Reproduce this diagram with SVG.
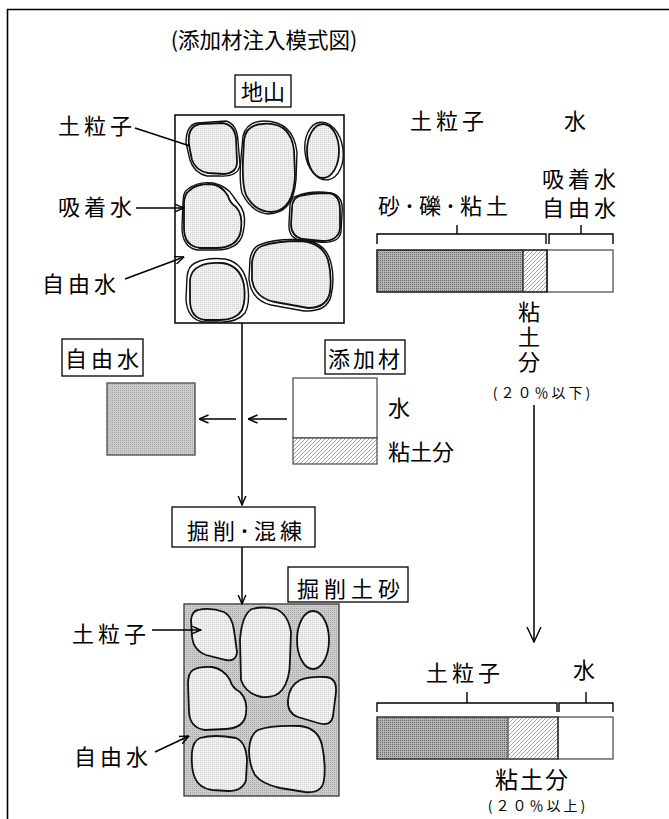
<svg xmlns="http://www.w3.org/2000/svg" width="669" height="819" viewBox="0 0 669 819">
  <style>
    text { font-family: "Noto Sans CJK JP", "Liberation Sans", sans-serif; fill: #000; }
    .t20 { font-size: 22px; letter-spacing: 4px; }
    .t21 { font-size: 22px; letter-spacing: 4px; }
    .t22 { font-size: 22px; }
    .small { font-size: 14px; letter-spacing: 3px; }
    .vert { writing-mode: vertical-rl; }
    .box { fill: #fff; stroke: #000; stroke-width: 1.3; }
    .frame { fill: none; stroke: #000; stroke-width: 1.6; }
    .line { fill: none; stroke: #000; stroke-width: 1.5; }
    .grain { fill: url(#pLight); stroke: #111; stroke-width: 1.8; }
    .shell { fill: none; stroke: #111; stroke-width: 1.4; }
    .brk { fill: none; stroke: #000; stroke-width: 1.4; }
  </style>
  <defs>
    <pattern id="pLight" width="2" height="2" patternUnits="userSpaceOnUse">
      <rect width="2" height="2" fill="#f0f0f0"/>
      <rect width="1" height="1" fill="#d2d2d2"/>
    </pattern>
    <pattern id="pGray" width="2" height="2" patternUnits="userSpaceOnUse">
      <rect width="2" height="2" fill="#cccccc"/>
      <rect width="1" height="1" fill="#a8a8a8"/>
    </pattern>
    <pattern id="pDark" width="2" height="2" patternUnits="userSpaceOnUse">
      <rect width="2" height="2" fill="#b4b4b4"/>
      <rect width="1" height="1" fill="#6a6a6a"/>
    </pattern>
    <pattern id="pHatch" width="4" height="4" patternUnits="userSpaceOnUse">
      <rect width="4" height="4" fill="#fff"/>
      <path d="M-1,1 L1,-1 M0,4 L4,0 M3,5 L5,3" stroke="#8a8a8a" stroke-width="0.8"/>
    </pattern>
    <marker id="vArrow" viewBox="0 0 10 10" markerWidth="10" markerHeight="10" refX="9.5" refY="5" orient="auto" markerUnits="userSpaceOnUse">
      <path d="M0,1 L9.5,5 L0,9" fill="none" stroke="#000" stroke-width="1.4"/>
    </marker>
    <marker id="vArrowL" viewBox="0 0 16 16" markerWidth="16" markerHeight="16" refX="15" refY="8" orient="auto" markerUnits="userSpaceOnUse">
      <path d="M0,1 L15,8 L0,15" fill="none" stroke="#000" stroke-width="1.4"/>
    </marker>
  </defs>

  <rect width="669" height="819" fill="#fff"/>

  <!-- outer frame (open at right and bottom) -->
  <path class="frame" d="M7.5,819 L7.5,9.5 L669,9.5"/>

  <!-- title -->
  <g id="title">
    <text x="264" y="48" font-size="21.5" text-anchor="middle">(添加材注入模式図)</text>
  </g>

  <!-- natural ground block -->
  <g id="jiyama">
    <rect class="box" x="235" y="75" width="56" height="32"/>
    <text class="t22" x="263" y="100" text-anchor="middle">地山</text>
    <rect x="175" y="115" width="169" height="208" fill="#fff" stroke="#000" stroke-width="1.5"/>
    <!-- grains (particle + adsorbed water shell) -->
    <path class="grain" d="M200,124 L222,123 Q234,124 236,138 L237,162 Q237,173 224,174 L208,173 Q196,171 192,160 L189,145 Q187,126 200,124 Z"/>
    <path class="shell" d="M197,123 L226,121 Q237,124 238,141 L240,165 Q238,177 220,176 L207,176 Q194,173 190,160 L186,143 Q186,125 197,123 Z"/>
    <path class="grain" d="M262,124 Q290,121 294,150 L295,175 Q294,210 272,212 Q255,212 246,195 Q242,185 243,160 L244,140 Q246,125 262,124 Z"/>
    <path class="shell" d="M264,121 Q293,121 297,152 L296,180 Q293,214 268,214 Q251,212 242,193 Q239,181 241,158 L243,136 Q247,121 264,121 Z"/>
    <ellipse class="grain" cx="323" cy="151" rx="16" ry="27"/>
    <ellipse class="shell" cx="324" cy="151" rx="19" ry="29" transform="rotate(-8 324 151)"/>
    <path class="grain" d="M190,190 Q196,184 210,184 Q222,185 228,196 Q230,203 236,207 Q243,214 241,230 Q238,248 216,248 L200,248 Q184,246 184,228 L184,204 Q184,194 190,190 Z"/>
    <path class="shell" d="M188,189 Q198,181 213,183 Q227,186 233,196 Q237,202 241,207 Q247,216 243,233 Q239,251 213,250 L197,250 Q182,247 182,227 L183,202 Q183,192 188,189 Z"/>
    <path class="grain" d="M300,196 Q310,193 328,193 Q340,194 340,210 L340,228 Q339,241 322,241 L302,239 Q291,236 291,224 L292,208 Q292,198 300,196 Z"/>
    <path class="shell" d="M297,196 Q311,190 331,193 Q344,196 342,213 L341,232 Q339,244 319,242 L299,240 Q288,237 289,223 L290,205 Q291,197 297,196 Z"/>
    <path class="grain" d="M200,266 Q208,262 222,263 Q240,265 244,285 Q246,300 242,310 Q236,320 220,320 L205,320 Q190,318 190,300 L190,280 Q191,270 200,266 Z"/>
    <path class="shell" d="M195,263 Q207,257 225,259 Q245,263 248,288 Q250,304 245,313 Q237,323 217,322 L203,322 Q187,319 186,299 L187,277 Q188,266 195,263 Z"/>
    <path class="grain" d="M262,246 Q276,241 300,241 Q322,242 328,260 Q332,275 330,292 Q327,308 308,308 L275,302 Q255,298 252,280 L252,262 Q254,249 262,246 Z"/>
    <path class="shell" d="M259,245 Q277,238 303,240 Q326,242 331,263 Q335,279 331,296 Q327,312 304,311 L271,305 Q251,300 249,279 L250,259 Q252,248 259,245 Z"/>
  </g>

  <g id="jiyama-labels">
    <text class="t20" x="58" y="134">土粒子</text>
    <text class="t20" x="58" y="215">吸着水</text>
    <text class="t20" x="42" y="292">自由水</text>
  </g>

  <!-- ratio bar before injection -->
  <g id="bar-before">
    <text class="t21" x="410" y="129">土粒子</text>
    <text class="t21" x="564" y="129">水</text>
    <text class="t21" x="542" y="187">吸着水</text>
    <text class="t21" x="542" y="216">自由水</text>
    <text class="t21" x="378" y="214">砂･礫･粘土</text>
    <path class="brk" d="M377,244 L377,234 L546,234 L546,244 M457,234 L457,225"/>
    <path class="brk" d="M549,244 L549,234 L613,234 L613,244 M581,234 L581,225"/>
    <rect x="377" y="250" width="146" height="42" fill="url(#pDark)"/>
    <rect x="523" y="250" width="24" height="42" fill="url(#pHatch)"/>
    <rect x="547" y="250" width="66" height="42" fill="#fff" stroke="#444" stroke-width="1.2"/>
    <rect x="377" y="250" width="170" height="42" fill="none" stroke="#222" stroke-width="1.6"/>
    <line x1="523" y1="250" x2="523" y2="292" stroke="#222" stroke-width="1.4"/>
    <text class="t22 vert" x="529" y="301" letter-spacing="3">粘土分</text>
    <text class="small" x="543" y="398" text-anchor="middle">(２０％以下)</text>
  </g>

  <!-- free water removed -->
  <g id="jiyusui">
    <rect class="box" x="62" y="339" width="81" height="37"/>
    <text class="t22" x="65" y="367" letter-spacing="4">自由水</text>
    <rect x="107" y="383" width="88" height="72" fill="url(#pGray)" stroke="#555" stroke-width="1.4"/>
  </g>

  <!-- additive -->
  <g id="tenkazai">
    <rect class="box" x="325" y="340" width="80" height="34"/>
    <text class="t22" x="328" y="367" letter-spacing="3">添加材</text>
    <rect x="293" y="378" width="84" height="60" fill="#fff" stroke="#444" stroke-width="1.2"/>
    <rect x="293" y="438" width="84" height="26" fill="url(#pHatch)" stroke="#444" stroke-width="1.2"/>
    <text class="t22" x="388" y="416">水</text>
    <text class="t22" x="388" y="460">粘土分</text>
  </g>

  <!-- excavation / mixing -->
  <g id="kussaku">
    <rect class="box" x="172" y="507" width="143" height="40"/>
    <text class="t22" x="187" y="539" letter-spacing="4">掘削･混練</text>
  </g>

  <!-- excavated soil block -->
  <g id="kussaku-dosha">
    <rect class="box" x="288" y="567" width="120" height="35"/>
    <text class="t22" x="297" y="597" letter-spacing="5">掘削土砂</text>
    <rect x="184" y="604" width="155" height="192" fill="url(#pGray)" stroke="#444" stroke-width="1.4"/>
    <path class="grain" d="M198,610 Q210,607 224,612 Q232,616 234,630 L237,652 Q236,662 226,660 L206,655 Q193,650 192,636 L191,620 Q192,611 198,610 Z"/>
    <path class="grain" d="M252,609 Q262,606 276,609 Q288,614 291,632 L290,660 Q290,680 282,690 Q276,698 262,697 Q246,694 241,680 L240,640 Q242,614 252,609 Z"/>
    <ellipse class="grain" cx="313" cy="640" rx="16" ry="29"/>
    <path class="grain" d="M193,670 Q200,666 212,667 Q224,669 230,680 Q232,688 240,692 Q248,700 246,714 Q244,728 226,729 L205,730 Q190,728 189,712 L188,684 Q188,673 193,670 Z"/>
    <path class="grain" d="M300,680 Q310,676 326,677 Q337,678 336,692 L333,716 Q331,727 318,723 L298,717 Q287,713 288,700 Q289,686 300,680 Z"/>
    <path class="grain" d="M200,738 Q214,734 236,738 Q246,742 247,760 L246,780 Q243,791 228,791 L212,790 Q199,788 195,778 Q191,770 192,752 Q193,741 200,738 Z"/>
    <path class="grain" d="M258,730 Q270,725 300,726 Q318,728 322,745 Q326,765 324,780 Q322,794 305,792 L280,788 Q262,784 255,775 Q249,765 249,750 Q250,734 258,730 Z"/>
  </g>

  <g id="kussaku-labels">
    <text class="t20" x="72" y="642">土粒子</text>
    <text class="t20" x="74" y="765">自由水</text>
  </g>

  <!-- ratio bar after mixing -->
  <g id="bar-after">
    <text class="t21" x="426" y="681">土粒子</text>
    <text class="t21" x="573" y="678">水</text>
    <path class="brk" d="M377,712 L377,703 L557,703 L557,712 M467,703 L467,692"/>
    <path class="brk" d="M559,712 L559,703 L613,703 L613,712 M586,703 L586,692"/>
    <rect x="377" y="717" width="131" height="42" fill="url(#pDark)"/>
    <rect x="508" y="717" width="50" height="42" fill="url(#pHatch)"/>
    <rect x="558" y="717" width="55" height="42" fill="#fff" stroke="#444" stroke-width="1.2"/>
    <rect x="377" y="717" width="181" height="42" fill="none" stroke="#333" stroke-width="1.5"/>
    <line x1="508" y1="717" x2="508" y2="759" stroke="#444" stroke-width="1.2"/>
    <text x="495" y="788" font-size="23" letter-spacing="2">粘土分</text>
    <text class="small" x="538" y="811" font-size="13" text-anchor="middle">(２０％以上)</text>
  </g>

  <!-- connectors -->
  <g id="connectors">
    <line class="line" x1="135" y1="128" x2="190" y2="146"/>
    <line class="line" x1="136" y1="208" x2="184" y2="208" marker-end="url(#vArrow)"/>
    <line class="line" x1="125" y1="279" x2="184" y2="257" marker-end="url(#vArrow)"/>
    <line class="line" x1="242" y1="323" x2="242" y2="505" marker-end="url(#vArrow)"/>
    <line class="line" x1="236" y1="419" x2="199" y2="419" marker-end="url(#vArrow)"/>
    <line class="line" x1="287" y1="419" x2="248" y2="419" marker-end="url(#vArrow)"/>
    <line class="line" x1="242" y1="547" x2="242" y2="604" marker-end="url(#vArrow)"/>
    <line class="line" x1="534" y1="405" x2="534" y2="642" marker-end="url(#vArrowL)"/>
    <line class="line" x1="152" y1="630" x2="201" y2="630" marker-end="url(#vArrow)"/>
    <line class="line" x1="155" y1="752" x2="189" y2="736" marker-end="url(#vArrow)"/>
  </g>
</svg>
